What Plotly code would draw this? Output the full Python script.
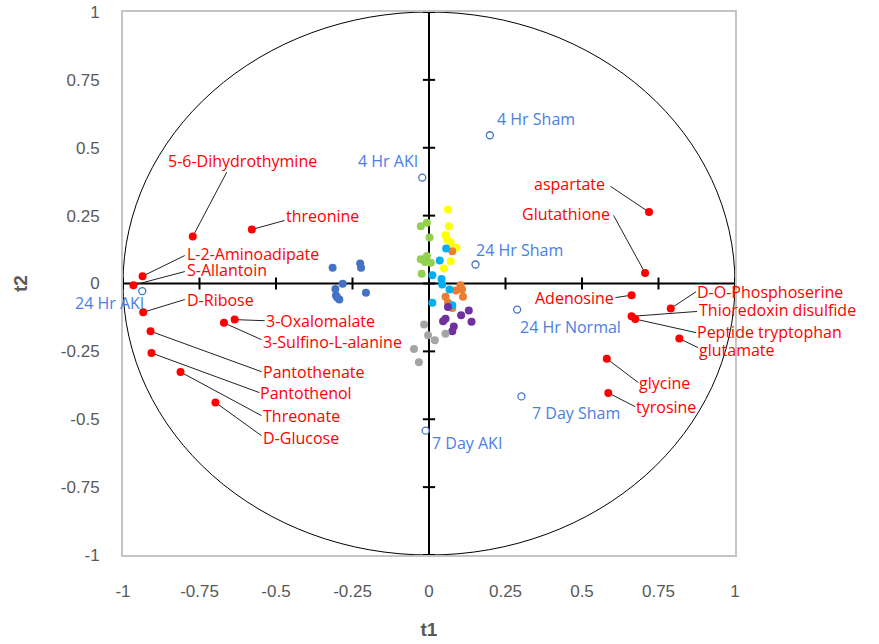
import plotly.graph_objects as go

# ---- variable loadings (red) ----
var_names = ["5-6-Dihydrothymine", "threonine", "L-2-Aminoadipate", "S-Allantoin",
             "D-Ribose", "3-Oxalomalate", "3-Sulfino-L-alanine", "Pantothenate",
             "Pantothenol", "Threonate", "D-Glucose", "aspartate", "Glutathione",
             "Adenosine", "D-O-Phosphoserine", "Thioredoxin disulfide",
             "Peptide tryptophan", "glutamate", "glycine", "tyrosine"]
var_t1 = [-0.772, -0.579, -0.936, -0.966, -0.934, -0.635, -0.670, -0.910,
          -0.907, -0.812, -0.698, 0.719, 0.706, 0.662, 0.790, 0.662,
          0.674, 0.818, 0.581, 0.586]
var_t2 = [0.173, 0.199, 0.027, -0.006, -0.106, -0.133, -0.145, -0.176,
          -0.256, -0.326, -0.438, 0.263, 0.039, -0.043, -0.092, -0.121,
          -0.131, -0.203, -0.277, -0.403]

# ---- group centroids (blue open circles) ----
grp_names = ["4 Hr Sham", "4 Hr AKI", "24 Hr Sham", "24 Hr AKI",
             "24 Hr Normal", "7 Day Sham", "7 Day AKI"]
grp_t1 = [0.199, -0.022, 0.152, -0.937, 0.288, 0.302, -0.011]
grp_t2 = [0.546, 0.390, 0.070, -0.028, -0.096, -0.416, -0.542]

# ---- sample scores by group ----
blue_t1 = [-0.315, -0.225, -0.222, -0.282, -0.306, -0.304, -0.293, -0.300, -0.206]
blue_t2 = [0.058, 0.074, 0.058, -0.001, -0.020, -0.044, -0.059, -0.052, -0.034]
green_t1 = [-0.027, -0.007, 0.002, -0.027, -0.007, 0.006, -0.013, -0.024]
green_t2 = [0.211, 0.224, 0.169, 0.089, 0.101, 0.076, 0.079, 0.036]
orange_t1 = [0.076, 0.103, 0.108, 0.111, 0.054, 0.062, 0.076, 0.088]
orange_t2 = [0.119, -0.006, -0.022, -0.049, -0.049, -0.071, -0.090, -0.026]
yellow_t1 = [0.062, 0.065, 0.054, 0.071, 0.090, 0.071, 0.049, 0.059]
yellow_t2 = [0.273, 0.211, 0.178, 0.150, 0.132, 0.082, 0.055, 0.162]
cyan_t1 = [0.056, 0.035, 0.011, 0.041, 0.043, 0.067, 0.011, 0.076]
cyan_t2 = [0.129, 0.085, 0.030, 0.017, -0.004, -0.022, -0.071, -0.080]
purple_t1 = [0.062, 0.130, 0.105, 0.139, 0.054, 0.046, 0.081, 0.076]
purple_t2 = [-0.087, -0.099, -0.117, -0.141, -0.130, -0.139, -0.158, -0.176]
gray_t1 = [-0.016, -0.003, 0.019, 0.054, -0.049, -0.033]
gray_t2 = [-0.151, -0.191, -0.209, -0.185, -0.241, -0.290]

tick_vals = [-1, -0.75, -0.5, -0.25, 0, 0.25, 0.5, 0.75, 1]
tick_text = ["-1", "-0.75", "-0.5", "-0.25", "0", "0.25", "0.5", "0.75", "1"]

# label placement for the variables: (x, y, anchor) and leader-line end point
var_label_pos = [(-0.857, 0.450, "left"), (-0.472, 0.247, "left"), (-0.795, 0.107, "left"),
                 (-0.795, 0.048, "left"), (-0.795, -0.059, "left"), (-0.537, -0.137, "left"),
                 (-0.547, -0.214, "left"), (-0.547, -0.325, "left"), (-0.554, -0.402, "left"),
                 (-0.547, -0.487, "left"), (-0.547, -0.568, "left"), (0.580, 0.365, "right"),
                 (0.596, 0.255, "right"), (0.609, -0.052, "right"), (0.873, -0.030, "left"),
                 (0.879, -0.096, "left"), (0.873, -0.177, "left"), (0.879, -0.244, "left"),
                 (0.684, -0.365, "left"), (0.674, -0.454, "left")]
var_line_end = [(-0.661, 0.410), (-0.472, 0.232), (-0.798, 0.103), (-0.798, 0.044),
                (-0.798, -0.059), (-0.537, -0.137), (-0.547, -0.207), (-0.547, -0.325),
                (-0.554, -0.402), (-0.547, -0.487), (-0.547, -0.561), (0.593, 0.358),
                (0.603, 0.251), (0.609, -0.052), (0.873, -0.030), (0.876, -0.103),
                (0.873, -0.181), (0.879, -0.236), (0.684, -0.365), (0.674, -0.454)]
grp_label_pos = [(0.218, 0.605, "left"), (-0.033, 0.450, "right"), (0.150, 0.125, "left"),
                 (-0.928, -0.070, "right"), (0.293, -0.159, "left"), (0.332, -0.476, "left"),
                 (0.007, -0.587, "left")]

RED = "#ff0000"
BLUE_LBL = "#4a7ee6"
LABEL_FONT = "Open Sans, Lato, sans-serif"
TICK_FONT = "Liberation Sans Narrow, Liberation Sans, Arial, sans-serif"

fig = go.Figure()

groups = [
    (blue_t1, blue_t2, "#4472c4"),
    (green_t1, green_t2, "#92d050"),
    (yellow_t1, yellow_t2, "#ffff00"),
    (orange_t1, orange_t2, "#ed7d31"),
    (cyan_t1, cyan_t2, "#00b0f0"),
    (purple_t1, purple_t2, "#7030a0"),
    (gray_t1, gray_t2, "#a5a5a5"),
]
for gx, gy, col in groups:
    fig.add_trace(go.Scatter(x=gx, y=gy, mode="markers",
                             marker=dict(size=8, color=col, line=dict(width=0)),
                             hoverinfo="skip", showlegend=False))

fig.add_trace(go.Scatter(x=grp_t1, y=grp_t2, mode="markers", text=grp_names,
                         marker=dict(size=7, color="white", symbol="circle",
                                     line=dict(color="#4472c4", width=1.3)),
                         showlegend=False))
fig.add_trace(go.Scatter(x=var_t1, y=var_t2, mode="markers", text=var_names,
                         marker=dict(size=8, color=RED, line=dict(width=0)),
                         showlegend=False))

shapes = []
# unit circle
shapes.append(dict(type="circle", xref="x", yref="y", x0=-1, x1=1, y0=-1, y1=1,
                   line=dict(color="black", width=1), layer="below"))
# central axes with tick marks
shapes.append(dict(type="line", xref="x", yref="y", x0=-1, x1=1, y0=0, y1=0,
                   line=dict(color="black", width=2), layer="below"))
shapes.append(dict(type="line", xref="x", yref="y", x0=0, x1=0, y0=-1, y1=1,
                   line=dict(color="black", width=2), layer="below"))
for t in tick_vals:
    shapes.append(dict(type="line", xref="x", yref="y", x0=t, x1=t, y0=-0.022, y1=0.022,
                       line=dict(color="black", width=2), layer="below"))
    shapes.append(dict(type="line", xref="x", yref="y", x0=-0.02, x1=0.02, y0=t, y1=t,
                       line=dict(color="black", width=2), layer="below"))
# leader lines from variables to their labels
for vx, vy, (ex, ey) in zip(var_t1, var_t2, var_line_end):
    shapes.append(dict(type="line", xref="x", yref="y", x0=vx, y0=vy, x1=ex, y1=ey,
                       line=dict(color="#222222", width=1), layer="below"))

annotations = []
for name, (lx, ly, anc) in zip(var_names, var_label_pos):
    annotations.append(dict(x=lx, y=ly, xref="x", yref="y", text=name, showarrow=False,
                            xanchor=anc, yanchor="middle", borderpad=0,
                            font=dict(family=LABEL_FONT, size=16, color=RED)))
for name, (lx, ly, anc) in zip(grp_names, grp_label_pos):
    annotations.append(dict(x=lx, y=ly, xref="x", yref="y", text=name, showarrow=False,
                            xanchor=anc, yanchor="middle", borderpad=0,
                            font=dict(family=LABEL_FONT, size=16, color=BLUE_LBL)))

fig.update_layout(
    width=879, height=644,
    margin=dict(l=123, r=144, t=12, b=89),
    paper_bgcolor="white", plot_bgcolor="white",
    shapes=shapes, annotations=annotations,
    xaxis=dict(range=[-1, 1], tickvals=tick_vals, ticktext=tick_text, automargin=False,
               showgrid=False, zeroline=False, ticks="", ticklabelstandoff=20,
               showline=True, mirror=True, linecolor="#c4c4c4", linewidth=2,
               tickfont=dict(family=TICK_FONT, size=17, color="#595959"),
               title=dict(text="<b>t1</b>", standoff=22,
                          font=dict(family=TICK_FONT, size=19, color="#595959"))),
    yaxis=dict(range=[-1, 1], tickvals=tick_vals, ticktext=tick_text, automargin=False,
               showgrid=False, zeroline=False, ticks="", ticklabelstandoff=18,
               showline=True, mirror=True, linecolor="#c4c4c4", linewidth=2,
               tickfont=dict(family=TICK_FONT, size=17, color="#595959"),
               title=dict(text="<b>t2</b>", standoff=28,
                          font=dict(family=TICK_FONT, size=19, color="#595959"))),
)

fig.write_html("out.html")
